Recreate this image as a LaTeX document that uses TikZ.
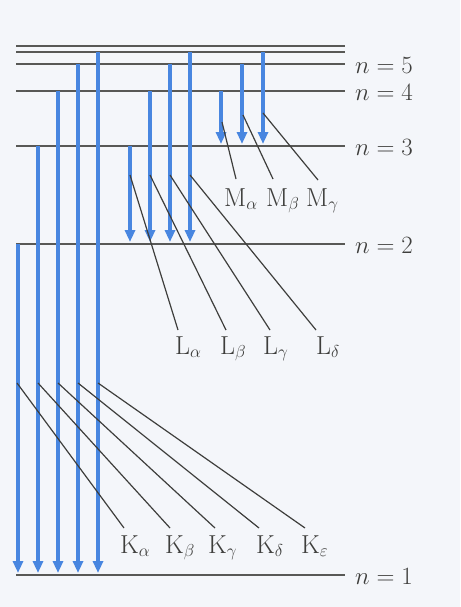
\documentclass[tikz,border=0pt]{standalone}
\usepackage{amsmath}
\usetikzlibrary{arrows.meta}
\definecolor{paper}{RGB}{244,246,250}
\definecolor{levelgray}{RGB}{88,88,86}
\definecolor{transblue}{RGB}{72,134,224}
\definecolor{inkgray}{RGB}{62,62,60}
\tikzset{
  level/.style={draw=levelgray, line width=1.8pt},
  trans/.style={-{Triangle[length=12pt, width=10pt]}, draw=transblue, line width=3.2pt},
  leader/.style={draw=inkgray, line width=1.2pt},
  levellabel/.style={anchor=west, inner sep=0pt, text=inkgray, font=\fontsize{24}{27}\selectfont},
  linelabel/.style={anchor=base west, inner sep=0pt, text=inkgray, font=\fontsize{26}{29}\selectfont}
}

\begin{document}
\begin{tikzpicture}[x=1pt, y=-1pt]
  \fill[paper] (0,0) rectangle (460,607);
  \useasboundingbox (0,0) rectangle (460,607);

  % energy levels
  \draw[level] (16,46) -- (345,46);
  \draw[level] (16,52) -- (345,52);
  \draw[level] (16,64) -- (345,64);
  \draw[level] (16,91) -- (345,91);
  \draw[level] (16,146) -- (345,146);
  \draw[level] (16,244) -- (345,244);
  \draw[level] (16,575) -- (345,575);
  \node[levellabel] (n5) at (355,65) {$n = 5$};
  \node[levellabel] (n4) at (355,92) {$n = 4$};
  \node[levellabel] (n3) at (355,147) {$n = 3$};
  \node[levellabel] (n2) at (355,245) {$n = 2$};
  \node[levellabel] (n1) at (355,576) {$n = 1$};

  % K series
  \draw[trans] (18,244) -- (18,573);
  \draw[trans] (38,146) -- (38,573);
  \draw[trans] (58,91) -- (58,573);
  \draw[trans] (78,64) -- (78,573);
  \draw[trans] (98,52) -- (98,573);
  % L series
  \draw[trans] (130,146) -- (130,242);
  \draw[trans] (150,91) -- (150,242);
  \draw[trans] (170,64) -- (170,242);
  \draw[trans] (190,52) -- (190,242);
  % M series
  \draw[trans] (221,91) -- (221,144);
  \draw[trans] (242,64) -- (242,144);
  \draw[trans] (263,52) -- (263,144);

  % line labels
  \node[linelabel] (Kalpha) at (120,553) {K$_\alpha$};
  \node[linelabel] (Kbeta) at (165,553) {K$_\beta$};
  \node[linelabel] (Kgamma) at (208,553) {K$_\gamma$};
  \node[linelabel] (Kdelta) at (256,553) {K$_\delta$};
  \node[linelabel] (Keps) at (301,553) {K$_\varepsilon$};
  \node[linelabel] (Lalpha) at (175,354) {L$_\alpha$};
  \node[linelabel] (Lbeta) at (220,354) {L$_\beta$};
  \node[linelabel] (Lgamma) at (263,354) {L$_\gamma$};
  \node[linelabel] (Ldelta) at (316,354) {L$_\delta$};
  \node[linelabel] (Malpha) at (224,206) {M$_\alpha$};
  \node[linelabel] (Mbeta) at (266,206) {M$_\beta$};
  \node[linelabel] (Mgamma) at (306,206) {M$_\gamma$};

  % leaders
  \draw[leader] (17,383) -- ([xshift=4pt, yshift=25pt]Kalpha.base west);
  \draw[leader] (38,383) -- ([xshift=5pt, yshift=25pt]Kbeta.base west);
  \draw[leader] (58,383) -- ([xshift=7pt, yshift=25pt]Kgamma.base west);
  \draw[leader] (78,383) -- ([xshift=3pt, yshift=25pt]Kdelta.base west);
  \draw[leader] (98,383) -- ([xshift=4pt, yshift=25pt]Keps.base west);
  \draw[leader] (130,175) -- ([xshift=3pt, yshift=24pt]Lalpha.base west);
  \draw[leader] (150,175) -- ([xshift=6pt, yshift=24pt]Lbeta.base west);
  \draw[leader] (170,175) -- ([xshift=7pt, yshift=24pt]Lgamma.base west);
  \draw[leader] (190,175) -- ([xshift=0pt, yshift=24pt]Ldelta.base west);
  \draw[leader] (222,122) -- ([xshift=12pt, yshift=27pt]Malpha.base west);
  \draw[leader] (243,115) -- ([xshift=7pt, yshift=27pt]Mbeta.base west);
  \draw[leader] (263,113) -- ([xshift=12pt, yshift=26pt]Mgamma.base west);
\end{tikzpicture}
\end{document}
